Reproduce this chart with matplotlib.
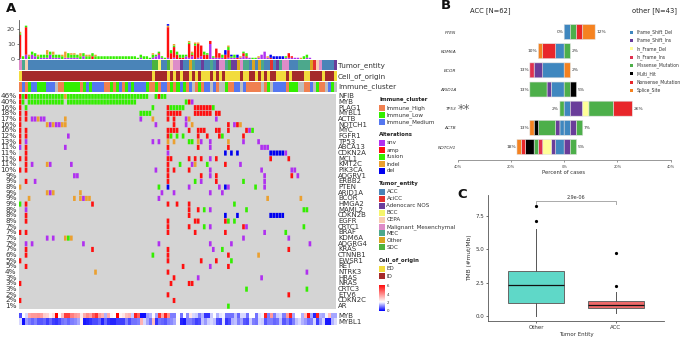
import numpy as np
import matplotlib
matplotlib.use('Agg')
import matplotlib.pyplot as plt
from matplotlib.colors import ListedColormap, LinearSegmentedColormap
from matplotlib.patches import Rectangle

W, H = 683, 338

# ── panel A data ─────────────────────────────────────────────────────────────
N_SAMPLES = 105
GENES = ["NFIB", "MYB", "PLAG1", "MYBL1", "ACTB", "NOTCH1", "MYC", "FGFR1", "TP53",
         "ABCA13", "CDKN2A", "MCL1", "KMT2C", "PIK3CA", "ADGRV1", "ERBB2", "PTEN",
         "ARID1A", "BCOR", "HMGA2", "MAML2", "CDKN2B", "EGFR", "CRTC1", "BRAF",
         "KDM6A", "ADGRG4", "KRAS", "CTNNB1", "EWSR1", "RET", "NTRK3", "HRAS",
         "NRAS", "CRTC3", "ETV6", "CDKN2C", "AR"]
PCT = [46, 40, 16, 18, 17, 16, 16, 12, 13, 11, 11, 11, 11, 10, 9, 9, 8, 9, 9, 9, 8, 8,
       8, 7, 7, 7, 7, 7, 6, 5, 5, 4, 3, 3, 3, 2, 2, 1]

r = lambda a, b: list(range(a, b + 1))

SNV = {"MYB": [57], "ACTB": [4, 5, 7, 8, 40, 55, 65], "NOTCH1": [10, 12, 13, 45, 55, 71],
       "MYC": [76], "FGFR1": [16], "TP53": [2, 44, 46, 60, 63, 74, 79],
       "ABCA13": [0, 15, 63, 80, 81, 82], "CDKN2A": [49, 88], "MCL1": [63],
       "KMT2C": [4, 10, 17, 57, 73], "PIK3CA": [45, 63, 80, 90, 91],
       "ADGRV1": [18, 19, 63, 81, 92], "ERBB2": [5, 60, 81], "PTEN": [56, 66, 69, 81],
       "ARID1A": [10, 47, 51, 63, 67], "BCOR": [21, 46], "MAML2": [2, 63],
       "CRTC1": [63, 75], "BRAF": [81], "KDM6A": [9, 11, 74, 89],
       "ADGRG4": [2, 4, 21, 46, 63, 70, 96], "KRAS": [64], "RET": [63], "NTRK3": [95],
       "HRAS": [59, 80]}
AMP = {"NFIB": [0, 2, 46], "MYB": [0, 56], "PLAG1": [0, 49] + r(58, 63),
       "MYBL1": [0, 2] + r(49, 53) + r(58, 63) + [65, 66], "ACTB": [0, 2, 49, 51],
       "NOTCH1": [0, 51, 69, 72], "MYC": [0, 2, 49, 50, 51, 52, 56, 59, 60, 61, 65, 66, 69, 75],
       "FGFR1": [0, 2, 49, 59, 62, 66, 74], "TP53": [0], "ABCA13": [2, 49, 59, 69],
       "CDKN2A": [2], "MCL1": [0, 2, 49, 50, 56, 58, 60, 65, 83, 89], "KMT2C": [2, 49, 68],
       "PIK3CA": [0, 2, 49, 51, 56], "ADGRV1": [49, 60, 65, 90], "ERBB2": [2, 49, 65],
       "HMGA2": [2, 24, 49, 52, 56], "MAML2": [56, 59], "CDKN2B": [2, 56],
       "EGFR": [2, 49, 58, 59, 68], "CRTC1": [49, 56, 74], "BRAF": [0, 2, 49, 58, 68],
       "KRAS": [2, 24, 49, 89], "CTNNB1": [2, 49, 69], "EWSR1": [0, 49, 60, 65],
       "RET": [2, 54, 69], "NTRK3": [49], "HRAS": [51], "NRAS": [0, 50, 56, 57],
       "ETV6": [49, 89], "CDKN2C": [0, 51]}
FUSION = {"NFIB": [1] + r(3, 14) + r(16, 42) + [45, 47, 48],
          "MYB": [1] + r(3, 14) + r(16, 38) + [55], "PLAG1": [2, 44] + r(50, 54) + [64],
          "MYBL1": r(40, 43), "MYC": [77], "FGFR1": [50, 52, 54, 67], "TP53": [56, 57],
          "KMT2C": [53, 62], "ERBB2": [58, 74], "PTEN": [46, 78], "HMGA2": [0, 71],
          "MAML2": [61, 75, 94, 95], "EGFR": [69, 71], "CRTC1": [61, 94], "BRAF": [88],
          "KDM6A": [16], "KRAS": [67], "CTNNB1": [44], "EWSR1": [70], "CRTC3": [75, 95],
          "AR": [69]}
INDEL = {"NFIB": [15], "ACTB": [6, 15, 44, 56], "NOTCH1": [9, 11, 14, 15, 57, 73],
         "TP53": [49, 51, 59, 69], "KMT2C": [9, 58], "PTEN": [0], "ARID1A": [9, 11, 20],
         "BCOR": [3, 18, 20, 22, 23, 82, 93], "KDM6A": [15, 17], "CTNNB1": [79], "NTRK3": [25]}
DEL = {"CDKN2A": [68, 70, 72] + r(83, 87), "PTEN": [49, 68], "CDKN2B": [68, 72] + r(83, 87)}
# amplified genes outside the listed rows
BAR_EXTRA_AMP = {58: 4, 59: 2, 60: 1}

ALT_NAMES = ["snv", "amp", "fusion", "indel", "del"]
ALT_DATA = [SNV, AMP, FUSION, INDEL, DEL]
ALT_COLORS = ["#B030F0", "#FF1010", "#33EE00", "#EBA030", "#0000F0"]

ENTITY_NAMES = ["ACC", "AciCC", "Adenocarc NOS", "BCC", "CEPA", "Malignant_Mesenchymal",
                "MEC", "Other", "SDC"]
ENTITY_COLORS = ["#4A84B8", "#E5322E", "#6A3D9A", "#F5F56A", "#F8CDB0", "#DD8CC8",
                 "#4CA88C", "#DAA520", "#4DB33D"]
ENTITY_RUNS = [(5, 1), (6, 1), (4, 1), (0, 41), (8, 2), (3, 1), (0, 2), (8, 1), (4, 1), (5, 2),
               (2, 1), (0, 2), (7, 1), (6, 1), (0, 2), (2, 1), (0, 2), (6, 1), (0, 1), (2, 1),
               (5, 2), (6, 1), (8, 1), (2, 2), (7, 1), (5, 1), (6, 2), (0, 1), (7, 1), (0, 1),
               (7, 1), (6, 1), (0, 2), (1, 1), (0, 1), (2, 1), (6, 1), (5, 2), (0, 3), (6, 4),
               (7, 1), (1, 1), (4, 1), (5, 1), (0, 4), (2, 1)]

CELL_NAMES = ["ED", "ID"]
CELL_COLORS = ["#F2DC3C", "#A52A2A"]
CELL_RUNS = [(0, 1), (1, 43), (0, 1), (1, 4), (0, 1), (1, 1), (0, 1), (1, 1), (0, 1), (1, 2), (0, 1),
             (1, 1), (0, 1), (1, 1), (0, 3), (1, 1), (0, 1), (1, 1), (0, 1), (1, 1), (0, 5), (1, 1),
             (0, 2), (1, 2), (0, 1), (1, 1), (0, 1), (1, 1), (0, 1), (1, 2), (0, 3), (1, 1), (0, 1),
             (1, 4), (0, 2), (1, 4), (0, 1), (1, 3), (0, 1)]

IMMUNE_NAMES = ["Immune_High", "Immune_Low", "Immune_Medium"]
IMMUNE_COLORS = ["#F08050", "#33EE00", "#5577F0", "#BEBEBE"]
IMMUNE_RUNS = [(0, 1), (2, 1), (0, 1), (1, 1), (2, 2), (1, 3), (2, 3), (3, 1), (0, 2), (1, 5), (0, 1),
               (1, 1), (2, 1), (1, 1), (2, 4), (0, 2), (1, 1), (0, 1), (1, 1), (2, 1), (0, 1), (1, 1),
               (2, 1), (1, 1), (2, 4), (1, 1), (0, 2), (1, 1), (0, 1), (2, 2), (0, 1), (1, 1), (0, 1),
               (1, 1), (2, 1), (1, 1), (0, 1), (2, 1),
               (3, 1), (0, 1), (1, 1), (0, 1), (2, 2), (3, 1), (2, 1), (0, 1), (3, 2), (1, 1), (0, 2),
               (2, 2), (3, 1), (2, 1), (0, 5), (3, 1), (0, 1), (1, 1), (3, 1), (2, 4), (0, 1), (1, 3),
               (3, 2), (0, 2), (2, 1), (3, 1), (1, 1), (0, 2), (3, 1), (2, 1), (1, 1), (3, 1)]

MYB_EXPR = [0.6, 2.0, 1.7, 3.4, 3.6, 3.6, 3.7, 3.5, 2.8, 2.7,
            2.2, 2.6, 6.0, 2.1, 3.0, 5.0, 5.0, 4.0, 3.6, 3.4,
            2.3, 3.3, 3.8, 3.5, 4.5, 5.2, 3.6, 3.2, 1.4, 3.3,
            2.2, 2.0, 6.0, 2.2, 2.4, 3.0, 3.2, 1.6, 5.5, 4.5,
            0.1, 0.1, 1.2, 1.4, 2.1, 1.3, 5.2, 3.4, 5.5, 3.8,
            1.0, 1.0, 2.0, 0.9, 2.0, 1.1, 2.4, 1.7, 1.6, 1.0,
            1.4, 0.4, 0.4, 1.6, 2.0, 1.4, 1.8, 1.9, 0.9, 0.9,
            0.9, 1.5, 0.8, 1.7, 1.7, 0.9, 2.0, 2.0, 0.9, 1.8,
            1.9, 5.5, 1.0, 3.6, 1.0, 1.6, 1.7, 1.0, 3.6, 5.5,
            1.3, 2.0, 2.0, 1.4, 3.0, 5.8, 1.3, 0.3, 5.5, 1.4,
            1.3, 1.9, 3.0, 1.3, 1.3]
MYBL1_EXPR = [1.7, 0.1, 1.2, 1.0, 0.8, 1.0, 0.7, 0.7, 0.8, 0.5,
              0.8, 0.5, 0.4, 0.6, 0.9, 1.0, 0.8, 1.0, 1.1, 1.3,
              2.2, 0.2, 0.3, 0.4, 0.6, 0.6, 0.8, 0.3, 0.8, 0.4,
              0.3, 0.3, 0.5, 0.5, 0.5, 1.0, 0.6, 0.9, 0.9, 1.0,
              3.2, 1.7, 1.3, 0.9, 3.0, 0.4, 0.9, 0.8, 0.7, 1.0,
              1.1, 1.3, 2.1, 0.3, 0.2, 1.0, 1.0, 0.8, 0.5, 0.6,
              1.5, 1.2, 1.6, 1.7, 1.5, 0.6, 0.5, 1.8, 0.4, 0.6,
              1.4, 1.5, 1.0, 1.3, 0.7, 0.6, 1.6, 1.0, 0.9, 1.7,
              1.6, 0.7, 1.0, 1.0, 0.8, 0.9, 1.5, 0.7, 1.0, 0.6,
              1.0, 1.5, 1.7, 1.4, 1.2, 0.9, 1.0, 1.7, 0.5, 1.2,
              1.7, 0.2, 0.2, 1.4, 1.7]

# ── panel B data (sample counts, from zero outwards) ─────────────────────────
MUT_TYPES = ["Frame_Shift_Del", "Frame_Shift_Ins", "In_Frame_Del", "In_Frame_Ins",
             "Missense_Mutation", "Multi_Hit", "Nonsense_Mutation", "Splice_Site"]
MUT_COLORS = ["#3F87BF", "#6A3D9A", "#FFFF99", "#E0314F", "#4DAF4A", "#000000", "#E8262A", "#F58220"]
B_GENES = ["PTEN", "KDM6A", "BCOR", "ARID1A", "TP53", "ACTB", "NOTCH1"]
N_ACC, N_OTHER = 62, 43
ACC_COUNTS = [[], [(0, 2), (6, 3), (7, 1)], [(0, 5), (1, 2), (3, 1)], [(0, 3), (1, 1), (4, 4)],
              [(4, 1)], [(0, 1), (1, 1), (4, 4), (5, 1), (7, 1)],
              [(0, 2), (1, 1), (2, 2), (3, 1), (4, 1), (5, 2), (6, 1), (7, 1)]]
OTHER_COUNTS = [[(0, 1), (4, 1), (6, 1), (7, 2)], [(4, 1)], [(7, 1)], [(4, 1), (5, 1)],
                [(0, 1), (1, 2), (2, 1), (4, 4), (6, 3)], [(0, 1), (1, 1), (4, 1)],
                [(1, 1), (4, 1)]]
B_TICKS = [-40, -20, 0, 20, 40]

# ── panel C data ─────────────────────────────────────────────────────────────
BOX_LABELS = ["Other", "ACC"]
BOX_Q1 = [0.95, 0.58]
BOX_MED = [2.3, 0.8]
BOX_Q3 = [3.4, 1.15]
BOX_WLO = [0.0, 0.2]
BOX_WHI = [6.5, 1.83]
BOX_FLIERS = [[7.15, 8.22], [2.25, 4.75]]
BOX_COLORS = ["#5FD8C8", "#EE6A6A"]
P_VALUE = "2.9e-06"


def px_axes(x0, y0, x1, y1):
    return fig.add_axes([x0 / W, 1 - y1 / H, (x1 - x0) / W, (y1 - y0) / H])


def expand(runs):
    return [code for code, n in runs for _ in range(n)]


fig = plt.figure(figsize=(W / 100, H / 100), dpi=100, facecolor='white')

# overlay in pixel coordinates for legends and labels
ov = fig.add_axes([0, 0, 1, 1], zorder=10)
ov.set_xlim(0, W)
ov.set_ylim(H, 0)
ov.axis('off')

X0, X1 = 18.5, 335.6
TEXT = "#333333"

# ── A: top bars ──────────────────────────────────────────────────────────────
ax = px_axes(X0, 20, X1, 59.3)
counts = np.zeros((len(ALT_DATA), N_SAMPLES))
for k, alt in enumerate(ALT_DATA):
    for cols in alt.values():
        for c in cols:
            counts[k, c] += 1
for c, n in BAR_EXTRA_AMP.items():
    counts[1, c] += n
bottom = np.zeros(N_SAMPLES)
for k, col in enumerate(ALT_COLORS):
    ax.bar(np.arange(N_SAMPLES), counts[k], 0.8, bottom=bottom, color=col, linewidth=0, snap=False)
    bottom += counts[k]
ax.set_xlim(-0.5, N_SAMPLES - 0.5)
ax.set_ylim(0, 25.7)
ax.set_yticks([0, 10, 20])
ax.set_xticks([])
ax.tick_params(axis='y', labelsize=4.6, length=1.5, width=0.5, pad=1, colors='#444444')
for s in ['top', 'right', 'bottom']:
    ax.spines[s].set_visible(False)
ax.spines['left'].set_linewidth(0.6)
ax.spines['left'].set_color('#555555')
ax.patch.set_alpha(0)

# ── A: annotation tracks ─────────────────────────────────────────────────────
tracks = [(ENTITY_RUNS, ENTITY_COLORS, 60, 70.3, "Tumor_entity"),
          (CELL_RUNS, CELL_COLORS, 71, 81.3, "Cell_of_origin"),
          (IMMUNE_RUNS, IMMUNE_COLORS, 82, 92, "Immune_cluster")]
for runs, colors, y0, y1, name in tracks:
    ax = px_axes(X0, y0, X1, y1)
    ax.imshow([expand(runs)], cmap=ListedColormap(colors), vmin=0, vmax=len(colors) - 1,
              aspect='auto', interpolation='antialiased')
    ax.axis('off')
    ov.text(338, (y0 + y1) / 2, name, fontsize=5.2, color=TEXT, va='center', ha='left')

# ── A: oncoprint ─────────────────────────────────────────────────────────────
ax = px_axes(X0, 93.5, X1, 309)
ax.set_facecolor("#D4D4D4")
for alt, col in zip(ALT_DATA, ALT_COLORS):
    for gene, cols in alt.items():
        ax.bar(cols, 0.9, 0.88, bottom=GENES.index(gene) - 0.45, color=col, linewidth=0, snap=False)
ax.set_xlim(-0.5, N_SAMPLES - 0.5)
ax.set_ylim(len(GENES) - 0.5, -0.5)
ax.set_xticks([])
ax.set_yticks([])
for s in ax.spines.values():
    s.set_visible(False)
row_h = (309 - 93.5) / len(GENES)
for i, (g, p) in enumerate(zip(GENES, PCT)):
    y = 93.5 + row_h * (i + 0.5)
    ov.text(338, y, g, fontsize=5.0, color=TEXT, va='center', ha='left')
    ov.text(16.5, y, f"{p}%", fontsize=5.2, color=TEXT, va='center', ha='right')

# ── A: expression rows ───────────────────────────────────────────────────────
expr_cmap = LinearSegmentedColormap.from_list(
    "expr", [(0, "#0000FF"), (2 / 6, "#FFFFFF"), (1, "#FF0000")])
ax = px_axes(X0, 313, X1, 325)
ax.imshow([MYB_EXPR, MYBL1_EXPR], cmap=expr_cmap, vmin=0, vmax=6, aspect='auto',
          interpolation='nearest')
ax.axis('off')
ov.text(338, 316, "MYB", fontsize=5.0, color=TEXT, va='center')
ov.text(338, 322, "MYBL1", fontsize=5.0, color=TEXT, va='center')

# ── A: legends ───────────────────────────────────────────────────────────────
def legend_block(title, y_title, names, colors, ys):
    ov.text(379, y_title, title, fontsize=3.9, fontweight='bold', color='#222222', va='center')
    for nm, col, y in zip(names, colors, ys):
        ov.add_patch(Rectangle((379, y - 3), 6, 6, facecolor=col, edgecolor='none'))
        ov.text(386.5, y, nm, fontsize=4.1, color=TEXT, va='center')


legend_block("Immune_cluster", 99.3, IMMUNE_NAMES, IMMUNE_COLORS, [107.7, 115, 121.7])
legend_block("Alterations", 134.3, ALT_NAMES, ALT_COLORS, [143, 150.3, 157, 164, 171])
legend_block("Tumor_entity", 183, ENTITY_NAMES, ENTITY_COLORS,
             [191.7, 198.7, 205.7, 212.7, 219.7, 226.7, 233.3, 240, 247.3])
legend_block("Cell_of_origin", 260, CELL_NAMES, CELL_COLORS, [268.7, 276])

ax = px_axes(379, 285, 385, 311.5)
ax.imshow(np.linspace(6, 0, 64)[:, None], cmap=expr_cmap, vmin=0, vmax=6, aspect='auto')
ax.axis('off')
for v, y in zip([6, 4, 2, 0], [286.3, 294.7, 302.7, 310.7]):
    ov.text(386.5, y, str(v), fontsize=2.8, color=TEXT, va='center')

# ── B: mirrored bars ─────────────────────────────────────────────────────────
ax = px_axes(457.7, 20, 670.7, 160.3)
for sign, table, n_total in [(-1, ACC_COUNTS, N_ACC), (1, OTHER_COUNTS, N_OTHER)]:
    for i, segs in enumerate(table):
        pos = 0.0
        for code, n in segs:
            w = n / n_total * 100
            ax.barh(i, sign * w, 0.78, left=pos, color=MUT_COLORS[code],
                    edgecolor='#E0E0E0', linewidth=0.4, snap=False)
            pos += sign * w
        pct = round(sum(n for _, n in segs) / n_total * 100)
        ax.text(pos + sign * 0.4, i, f"{pct}%", fontsize=3.2, color='#333333', va='center',
                ha='left' if sign > 0 else 'right')
ax.set_xlim(-40, 40)
ax.set_ylim((160.3 - 32) / 19.17, (20 - 32) / 19.17)
ax.set_xticks(B_TICKS)
ax.set_xticklabels([f"{abs(t)}%" for t in B_TICKS])
ax.tick_params(axis='x', labelsize=2.6, length=1.5, width=0.4, pad=2, colors='#444444')
ax.set_yticks(range(len(B_GENES)))
ax.set_yticklabels(B_GENES, fontsize=3.2, style='italic', color='#333333')
ax.tick_params(axis='y', length=0, pad=1)
for s in ['top', 'right', 'left']:
    ax.spines[s].set_visible(False)
ax.spines['bottom'].set_color('#888888')
ax.spines['bottom'].set_linewidth(0.6)
ax.patch.set_alpha(0)

ov.text(564, 173, "Percent of cases", fontsize=3.8, color=TEXT, ha='center', va='center')
ov.text(490.5, 11, "ACC [N=62]", fontsize=4.9, color='#222222', ha='center', va='center',
        fontweight='medium')
ov.text(654, 11, "other [N=43]", fontsize=4.9, color='#222222', ha='center', va='center',
        fontweight='medium')
ov.text(463.5, 109, "**", fontsize=9, color='#666666', ha='center', va='center')
for nm, col, y in zip(MUT_TYPES, MUT_COLORS, [32, 40.3, 48.7, 57, 65.3, 73.7, 82, 90.3]):
    ov.add_patch(Rectangle((629.5, y - 1.5), 3, 3, facecolor=col, edgecolor='none'))
    ov.text(636.5, y, nm, fontsize=3.25, color=TEXT, va='center')

# ── C: box plot ──────────────────────────────────────────────────────────────
ax = px_axes(488.3, 195, 664.3, 321)
stats = [dict(label=l, q1=a, med=m, q3=b, whislo=lo, whishi=hi, fliers=f)
         for l, a, m, b, lo, hi, f in zip(BOX_LABELS, BOX_Q1, BOX_MED, BOX_Q3, BOX_WLO, BOX_WHI, BOX_FLIERS)]
bp = ax.bxp(stats, positions=[1, 2], widths=0.7, patch_artist=True, showcaps=False,
            medianprops=dict(color='#111111', linewidth=0.9),
            whiskerprops=dict(color='#555555', linewidth=0.7),
            boxprops=dict(edgecolor='#666666', linewidth=0.7),
            flierprops=dict(marker='o', markersize=1.3, markerfacecolor='black',
                            markeredgecolor='black', linewidth=0))
for patch, col in zip(bp['boxes'], BOX_COLORS):
    patch.set_facecolor(col)
ax.set_xlim(0.4, 2.61)
ax.set_ylim(-0.375, 9.08)
ax.set_yticks([0, 2.5, 5, 7.5])
ax.set_yticklabels(["0.0", "2.5", "5.0", "7.5"])
ax.tick_params(axis='both', labelsize=4.0, length=1.5, width=0.5, pad=1.5, colors='#333333')
ax.set_ylabel("TMB (#mut/Mb)", fontsize=4.2, color=TEXT, labelpad=2.5)
ax.set_xlabel("Tumor Entity", fontsize=4.0, color=TEXT, labelpad=1.5)
for s in ['top', 'right']:
    ax.spines[s].set_visible(False)
for s in ['left', 'bottom']:
    ax.spines[s].set_color('#555555')
    ax.spines[s].set_linewidth(0.6)
ax.plot([1, 1, 2, 2], [8.4, 8.65, 8.65, 8.4], color='#AAAAAA', linewidth=0.7)
ax.text(1.5, 8.72, P_VALUE, fontsize=3.5, color='#333333', ha='center', va='bottom')
ax.patch.set_alpha(0)

# ── panel letters ────────────────────────────────────────────────────────────
ov.text(5.5, 8, "A", fontsize=9.5, fontweight='bold', color='#111111', ha='left', va='center')
ov.text(440.5, 5.5, "B", fontsize=9.5, fontweight='bold', color='#111111', ha='left', va='center')
ov.text(457, 194.5, "C", fontsize=9.5, fontweight='bold', color='#111111', ha='left', va='center')

fig.savefig("out.png", dpi=100, facecolor='white')
